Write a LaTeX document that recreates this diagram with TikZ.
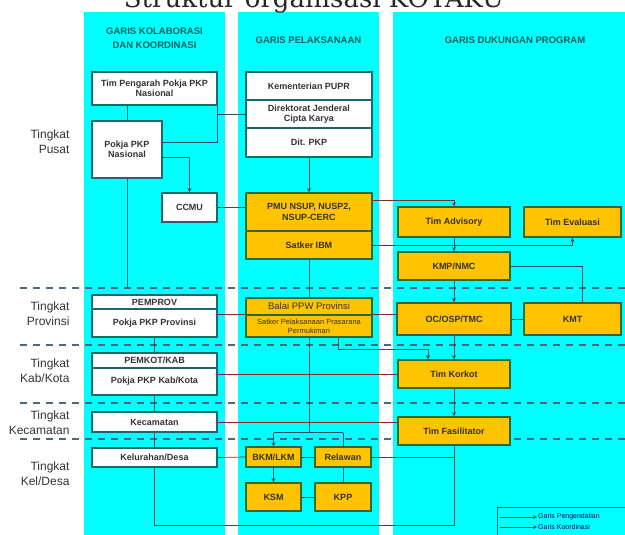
\documentclass[tikz,border=0pt]{standalone}
\usepackage{fontspec}
\setmainfont{Liberation Sans}
\newfontfamily\titlefont{DejaVu Serif}
\definecolor{kolom}{RGB}{0,255,255}
\definecolor{garis}{RGB}{25,85,85}
\definecolor{koord}{RGB}{125,45,45}
\definecolor{tepi}{RGB}{25,105,105}
\definecolor{kuning}{RGB}{255,195,0}
\definecolor{tepik}{RGB}{45,105,45}
\definecolor{judul}{RGB}{0,95,95}
\definecolor{putus}{RGB}{75,105,120}
\pgfdeclarelayer{bg}
\pgfdeclarelayer{ln}
\pgfsetlayers{bg,ln,main}

\begin{document}
\begin{tikzpicture}[x=1pt, y=-1pt, >=stealth,
    wb/.style={draw=tepi, line width=1.3pt, fill=white, inner sep=1pt, align=center,
      font=\fontsize{9}{10.5}\selectfont\bfseries, text=black!80},
    yb/.style={wb, draw=tepik, fill=kuning},
    sz/.style 2 args={minimum width=#1, minimum height=#2},
    hdr/.style={font=\fontsize{9.5}{14}\selectfont\bfseries, text=judul, align=center},
    lvl/.style={font=\fontsize{12}{15}\selectfont, text=black!80, align=right, anchor=east},
    ctrl/.style={draw=garis, line width=0.9pt},
    koord/.style={draw=koord, line width=0.7pt},
    sekat/.style={draw=putus, line width=1.2pt, dash pattern=on 7pt off 6pt}]
  \useasboundingbox (0,0) rectangle (625,535);
  % columns and level separators
  \begin{pgfonlayer}{bg}
    \fill[kolom] (84,12) rectangle (225,535);
    \fill[kolom] (238,12) rectangle (379,535);
    \fill[kolom] (393,12) rectangle (625,535);
    \foreach \i/\y in {1/288, 2/345, 3/403, 4/439} {
      \coordinate (b\i) at (20,\y);
      \draw[sekat] (b\i) -- ++(605,0);}
  \end{pgfonlayer}
  \coordinate (bot) at (0,525);
  % title and headers
  \node[font=\titlefont\fontsize{26}{26}\selectfont, anchor=base, text=black!85] (judul) at (314,8) {Struktur organisasi KOTAKU};
  \node[hdr] (h1) at (154.5,38.5) {GARIS KOLABORASI\\DAN KOORDINASI};
  \node[hdr] (h2) at (308.5,40) {GARIS PELAKSANAAN};
  \node[hdr] (h3) at (515,40) {GARIS DUKUNGAN PROGRAM};
  % level labels
  \foreach \y/\t in {141.5/{Pusat}, 313.5/{Provinsi}, 371/{Kab/Kota}, 422.5/{Kecamatan}, 473.5/{Kel/Desa}}
    \node[lvl] at (73,\y) {Tingkat\\\t};
  % kolaborasi dan koordinasi
  \node[wb, sz={125}{33}] (tpk) at (154.5,88.5) {Tim Pengarah Pokja PKP\\Nasional};
  \node[wb, sz={70}{57}] (pkn) at (127,149.5) {Pokja PKP\\Nasional};
  \node[wb, sz={55}{29}] (ccmu) at (189.5,207.5) {CCMU};
  \node[wb, sz={125}{14}] (pemprov) at (154.5,302) {PEMPROV};
  \node[wb, sz={125}{28}] (pkprov) at (154.5,323) {Pokja PKP Provinsi};
  \node[wb, sz={125}{15}] (pemkot) at (154.5,360.5) {PEMKOT/KAB};
  \node[wb, sz={125}{27}] (pkkab) at (154.5,381.5) {Pokja PKP Kab/Kota};
  \node[wb, sz={125}{20}] (kec) at (154.5,422) {Kecamatan};
  \node[wb, sz={125}{19}] (kel) at (154.5,457.5) {Kelurahan/Desa};
  % pelaksanaan
  \node[wb, sz={126}{28}] (kem) at (309,86) {Kementerian PUPR};
  \node[wb, sz={126}{28}] (djck) at (309,114) {Direktorat Jenderal\\Cipta Karya};
  \node[wb, sz={126}{29}] (dit) at (309,142.5) {Dit. PKP};
  \node[yb, sz={126}{38}] (pmu) at (309,212) {PMU NSUP, NUSP2,\\NSUP-CERC};
  \node[yb, sz={126}{28}] (satker) at (309,245) {Satker IBM};
  \node[yb, sz={126}{17}, font=\fontsize{9.5}{10}\selectfont] (balai) at (309,306.5) {Balai PPW Provinsi};
  \node[yb, sz={126}{22}, font=\fontsize{7.5}{9}\selectfont] (sppp) at (309,326) {Satker Pelaksanaan Prasarana\\Permukiman};
  \node[yb, sz={55}{20}] (bkm) at (273.5,457) {BKM/LKM};
  \node[yb, sz={56}{20}] (rel) at (343,457) {Relawan};
  \node[yb, sz={55}{28}] (ksm) at (273.5,497) {KSM};
  \node[yb, sz={56}{28}] (kpp) at (343,497) {KPP};
  % dukungan program
  \node[yb, sz={112}{30}] (adv) at (454,222) {Tim Advisory};
  \node[yb, sz={97}{30}] (eval) at (572.5,222) {Tim Evaluasi};
  \node[yb, sz={112}{28}] (kmp) at (454,266) {KMP/NMC};
  \node[yb, sz={114}{32}] (oc) at (454,319) {OC/OSP/TMC};
  \node[yb, sz={97}{32}] (kmt) at (572.5,319) {KMT};
  \node[yb, sz={112}{28}] (korkot) at (454,374) {Tim Korkot};
  \node[yb, sz={112}{28}] (fas) at (454,431) {Tim Fasilitator};
  % connectors
  \begin{pgfonlayer}{ln}
    \draw[ctrl] (tpk.south -| pkn) -- (pkn |- b1);
    \draw[ctrl] ([yshift=7.5pt]pkn.east) -| (tpk.south east);
    \draw[ctrl] (tpk.south east |- djck) -- (djck.west);
    \draw[ctrl, ->] ([yshift=-7.5pt]pkn.east) -| (ccmu.north);
    \draw[koord] (ccmu.east) -- (ccmu.east -| pmu.west);
    \draw[ctrl, ->] (dit.south) -- (pmu.north);
    \draw[koord, ->] ([yshift=12pt]pmu.east) -| (adv.north);
    \draw[ctrl, ->] (satker.east) -| (eval.south);
    \draw[ctrl, ->] (adv.south) -- (kmp.north);
    \draw[ctrl] (kmp.east) -| ([xshift=10pt]kmt.north);
    \draw[ctrl, ->] (kmp.south) -- (oc.north);
    \draw[ctrl] (oc.east) -- (kmt.west);
    \draw[ctrl, ->] (oc.south) -- (korkot.north);
    \draw[ctrl] (satker.south) -- (balai.north);
    \draw[ctrl, ->] ([xshift=29pt]sppp.south) -- ++(0,12) -| ([xshift=-26pt]korkot.north);
    \draw[koord] (pkprov.east |- sppp.north) -- (oc.west |- sppp.north);
    \draw[koord] (pkkab.east |- korkot) -- (korkot.west);
    \draw[koord] (kec.east) -- (kec.east -| fas.west);
    \draw[koord] (kel.east) -- (bkm.west);
    \draw[koord] (bkm.east) -- (rel.west);
    \draw[koord] (rel.east) -- (rel.east -| fas.south);
    \draw[ctrl, ->] (korkot.south) -- (fas.north);
    \draw[ctrl] (pkprov.south) -- (pkprov |- bot) -| (fas.south);
    \draw[ctrl] (sppp.south) -- (sppp.south |- kec.south);
    \draw[ctrl] (bkm.north |- kec.south) -- (rel.north |- kec.south);
    \draw[ctrl, ->] (bkm.north |- kec.south) -- (bkm.north);
    \draw[ctrl] (rel.north |- kec.south) -- (rel.north);
    \draw[ctrl, ->] (bkm.south) -- (ksm.north);
    \draw[ctrl] (rel.south) -- (kpp.north);
    \draw[koord] (ksm.east) -- (kpp.west);
  \end{pgfonlayer}
  % legend
  \draw[garis, line width=0.6pt] (497,535) -- (497,507) -- (625,507);
  \coordinate (lp0) at (500,517);
  \coordinate (lk0) at (500,527);
  \node[font=\fontsize{7}{8}\selectfont, text=blue!40!black, anchor=west, inner sep=1pt] (lp) at (537,517) {Garis Pengendalian};
  \node[font=\fontsize{7}{8}\selectfont, text=blue!40!black, anchor=west, inner sep=1pt] (lk) at (537,527) {Garis Koordinasi};
  \draw[ctrl, ->] (lp0) -- (lp.west);
  \draw[koord, ->] (lk0) -- (lk.west);
\end{tikzpicture}
\end{document}
